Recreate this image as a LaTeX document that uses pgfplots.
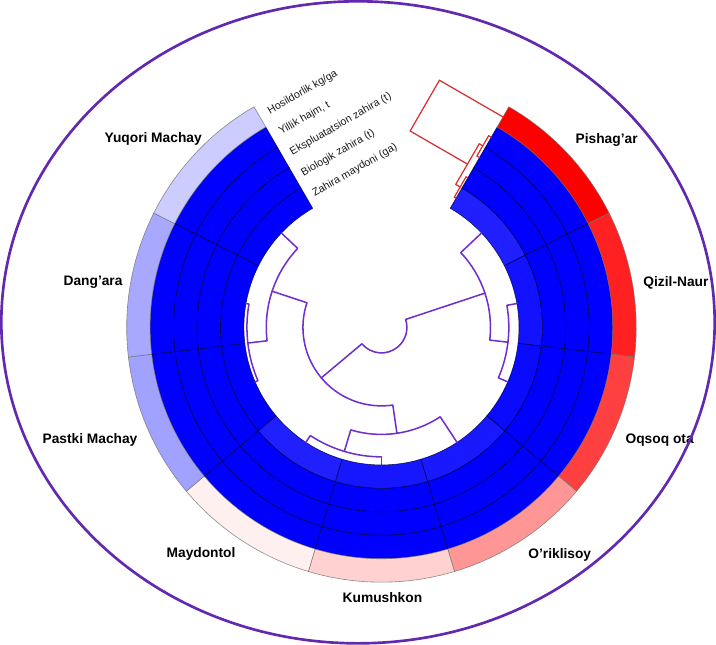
\documentclass[border=0pt]{standalone}
\usepackage{pgfplots}
\pgfplotsset{compat=1.18}
\usepackage{pgfplotstable}
\usepackage{fontspec}
\setmainfont{Liberation Sans}

\definecolor{dendro}{RGB}{112,46,205}
\definecolor{frame}{RGB}{98,40,175}
\definecolor{coldendro}{RGB}{215,45,45}
\definecolor{ringtext}{RGB}{25,25,25}

% Scaled values (-1 = blue ... 0 = white ... 1 = red), one row per site,
% sites clockwise from the top gap; rings from inside to outside:
% zm = Zahira maydoni (ga), bz = Biologik zahira (t),
% ez = Ekspluatatsion zahira (t), yh = Yillik hajm, t, hk = Hosildorlik kg/ga
\pgfplotstableread{
idx zm bz ez yh hk
0 -0.88 -1.00 -1.00 -1.00  1.00
1 -0.93 -1.00 -1.00 -1.00  0.87
2 -0.96 -1.00 -1.00 -1.00  0.75
3 -0.90 -1.00 -1.00 -1.00  0.41
4 -0.91 -1.00 -1.00 -1.00  0.18
5 -0.88 -1.00 -1.00 -1.00  0.06
6 -1.00 -1.00 -1.00 -1.00 -0.37
7 -1.00 -1.00 -1.00 -1.00 -0.34
8 -1.00 -1.00 -1.00 -1.00 -0.20
}\heat

% site dendrogram: arcs (radius, from angle, to angle)
\pgfplotstableread{
r a1 a2
25 -140 18.33
107 43.33 -6.67
125 10 -23.33
77 161.67 278.33
113 136.67 186.67
132 170 203.33
105 -106.67 -56.67
127 -123.33 -90
}\dendarcs

% site dendrogram: radial links (angle, inner radius, outer radius)
\pgfplotstableread{
a r1 r2
18.33 25 107
-140 25 77
43.33 107 135
-6.67 107 125
10 125 135
-23.33 125 135
161.67 77 113
-81.67 77 105
136.67 113 135
186.67 113 132
170 132 135
203.33 132 135
-56.67 105 135
-106.67 105 127
-90 127 135
-123.33 127 135
}\dendlinks

% ring dendrogram in the gap: segments (u along the 60 degree edge, v across it)
\pgfplotstableread{
u1 v1 u2 v2
146.5 0 146.5 2
169.5 0 169.5 2
146.5 2 169.5 2
158 2 158 7
192.5 0 192.5 3
215.5 0 215.5 3
192.5 3 215.5 3
204 3 204 7
158 7 204 7
181 7 181 72
238.5 0 238.5 72
181 72 238.5 72
}\coldend

% site labels
\pgfplotstableread{
x y name
221 184 {Pishag’ar}
289 44 {Qizil-Naur}
273 -111 {Oqsoq ota}
175 -223 {O’riklisoy}
1 -265 {Kumushkon}
-177 -222 {Maydontol}
-286 -110 {Pastki Machay}
-283 44 {Dang’ara}
-224 185 {Yuqori Machay}
}\sitelabels

\newcommand\heatcolor[1]{%
  \pgfmathsetmacro\hp{abs(#1)*100}%
  \ifdim #1pt<0pt \colorlet{heatc}{blue!\hp!white}\else\colorlet{heatc}{red!\hp!white}\fi}

\begin{document}
\begin{tikzpicture}
\begin{axis}[
  x=1bp, y=1bp,
  xmin=-385, xmax=331, ymin=-320, ymax=327,
  hide axis, clip=false,
]
\pgfplotsextra{
  \coordinate (O) at (axis cs:0,0);
  \def\sw{33.3333}
  % heat map cells
  \foreach \i in {0,...,8}{
    \pgfmathsetmacro\aone{60-\sw*\i}
    \pgfmathsetmacro\atwo{60-\sw*(\i+1)}
    \foreach \col [count=\k from 0] in {zm,bz,ez,yh,hk}{
      \pgfplotstablegetelem{\i}{\col}\of\heat
      \let\v\pgfplotsretval
      \pgfmathsetmacro\rin{135+23*\k}
      \pgfmathsetmacro\rout{\rin+23}
      \heatcolor{\v}
      \ifnum\k=4 \def\edgecol{black!55}\else\def\edgecol{black!75!blue}\fi
      \filldraw[fill=heatc, draw=\edgecol, draw opacity=0.8, line width=0.6bp]
        ([shift={(\aone:\rin bp)}]O) arc[start angle=\aone, end angle=\atwo, radius=\rin bp]
        -- ([shift={(\atwo:\rout bp)}]O) arc[start angle=\atwo, end angle=\aone, radius=\rout bp]
        -- cycle;
    }
  }
  % site dendrogram
  \foreach \i in {0,...,7}{
    \pgfplotstablegetelem{\i}{r}\of\dendarcs \let\r\pgfplotsretval
    \pgfplotstablegetelem{\i}{a1}\of\dendarcs \let\aa\pgfplotsretval
    \pgfplotstablegetelem{\i}{a2}\of\dendarcs \let\ab\pgfplotsretval
    \draw[dendro, line width=1.5bp] ([shift={(\aa:\r bp)}]O) arc[start angle=\aa, end angle=\ab, radius=\r bp];
  }
  \foreach \i in {0,...,15}{
    \pgfplotstablegetelem{\i}{a}\of\dendlinks \let\a\pgfplotsretval
    \pgfplotstablegetelem{\i}{r1}\of\dendlinks \let\ra\pgfplotsretval
    \pgfplotstablegetelem{\i}{r2}\of\dendlinks \let\rb\pgfplotsretval
    \draw[dendro, line width=1.5bp, line cap=round] ([shift={(\a:\ra bp)}]O) -- ([shift={(\a:\rb bp)}]O);
  }
  % ring dendrogram
  \begin{scope}[shift={(O)}, rotate=60]
  \foreach \i in {0,...,11}{
    \pgfplotstablegetelem{\i}{u1}\of\coldend \let\ua\pgfplotsretval
    \pgfplotstablegetelem{\i}{v1}\of\coldend \let\va\pgfplotsretval
    \pgfplotstablegetelem{\i}{u2}\of\coldend \let\ub\pgfplotsretval
    \pgfplotstablegetelem{\i}{v2}\of\coldend \let\vb\pgfplotsretval
    \draw[coldendro, line width=1.2bp, line cap=round] (\ua bp,\va bp) -- (\ub bp,\vb bp);
  }
  \end{scope}
  % ring names
  \foreach \t [count=\k from 0] in {Zahira maydoni (ga), Biologik zahira (t), Ekspluatatsion zahira (t), {Yillik hajm, t}, Hosildorlik kg/ga}{
    \pgfmathsetmacro\rm{146.5+23*\k}
    \node[anchor=west, rotate=30, inner sep=3.5bp, text=ringtext, font=\fontsize{10.5bp}{12bp}\selectfont]
      at ([shift={(118.5:\rm bp)}]O) {\t};
  }
  % site names
  \foreach \i in {0,...,8}{
    \pgfplotstablegetelem{\i}{x}\of\sitelabels \let\lx\pgfplotsretval
    \pgfplotstablegetelem{\i}{y}\of\sitelabels \let\ly\pgfplotsretval
    \pgfplotstablegetelem{\i}{name}\of\sitelabels \let\ln\pgfplotsretval
    \node[font=\bfseries\fontsize{13.5bp}{15bp}\selectfont] at (axis cs:\lx,\ly) {\ln};
  }
  % surrounding frame
  \draw[frame, line width=2.6bp] (axis cs:-23,5) ellipse [x radius=350bp, y radius=315bp];
}
\end{axis}
\end{tikzpicture}
\end{document}
